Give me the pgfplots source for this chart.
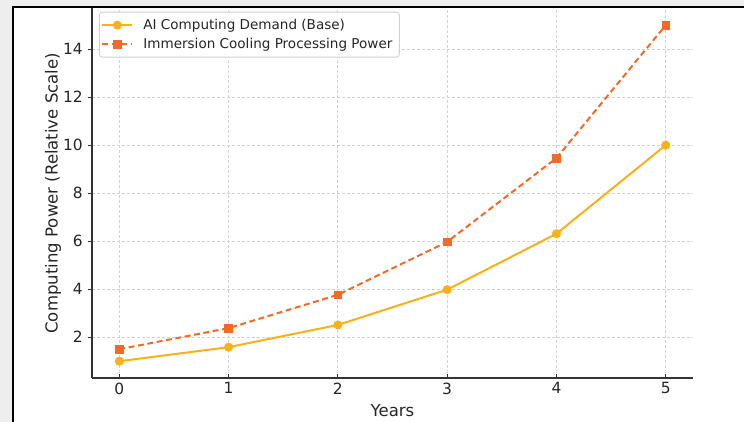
\documentclass[border=0pt]{standalone}
\usepackage{fontspec}
\setmainfont{DejaVu Sans}
\usepackage{pgfplots}
\pgfplotsset{compat=1.18}

\definecolor{basecol}{RGB}{252,176,23}
\definecolor{immcol}{RGB}{243,106,40}
\definecolor{outerbg}{RGB}{238,238,238}
\definecolor{gridcol}{RGB}{210,210,210}
\definecolor{spine}{RGB}{51,51,51}

\begin{document}
\begin{tikzpicture}
\useasboundingbox (0,0) rectangle (744bp,-422bp);
\fill[outerbg] (0,0) rectangle (744bp,-422bp);
\fill[white] (13bp,-7bp) rectangle (744bp,-422bp);
\begin{axis}[
  at={(92bp,-378bp)}, anchor=south west,
  scale only axis, width=601bp, height=369.6bp,
  xmin=-0.25, xmax=5.25, ymin=0.3, ymax=15.7,
  axis x line*=bottom, axis y line*=left,
  axis line style={spine, line width=1.2bp, -},
  xtick={0,...,5}, ytick={2,4,...,14},
  xtick align=inside, ytick align=outside,
  major tick length=4.5bp,
  tick style={spine, line width=1bp},
  grid=major,
  grid style={gridcol, dash pattern=on 3bp off 2bp, line width=0.8bp},
  /pgf/number format/assume math mode=true,
  tick label style={font=\fontsize{15.5}{18}\selectfont, text=black!85},
  yticklabel style={inner xsep=4.5bp},
  xticklabel style={inner ysep=4.5bp},
  xlabel={Years},
  ylabel={Computing Power (Relative Scale)},
  label style={font=\fontsize{16.6}{19}\selectfont, text=black!85},
  xlabel style={at={(axis description cs:0.5,-0.1055)}, anchor=base},
  ylabel style={at={(axis description cs:-0.0574,0.5)}, anchor=base},
  legend style={at={(axis description cs:0.01165,0.991)}, anchor=north west,
    draw=black!18, line width=0.8bp, rounded corners=3bp, fill=white,
    font=\fontsize{13.6}{16}\selectfont,
    inner xsep=2bp, inner ysep=3.5bp, row sep=0bp, column sep=5bp,
    nodes={inner xsep=5bp, inner ysep=2.5bp, text height=11bp, text depth=3bp, text=black!85},
    cells={anchor=west}},
  legend image code/.code={\draw[mark repeat=2, mark phase=2, #1]
    plot coordinates {(0bp,0bp) (15bp,0bp) (30bp,0bp)};},
]
\addplot[basecol, line width=2bp, mark=*, mark size=4.2bp,
  mark options={solid, line width=0.6bp}]
  coordinates {(0,1.0) (1,1.585) (2,2.512) (3,3.981) (4,6.310) (5,10.0)};
\addlegendentry{AI Computing Demand (Base)}
\addplot[immcol, line width=2bp, dash pattern=on 6bp off 3.5bp, mark=square*, mark size=3.8bp,
  mark options={solid, line width=0.6bp}]
  coordinates {(0,1.5) (1,2.378) (2,3.768) (3,5.972) (4,9.464) (5,15.0)};
\addlegendentry{Immersion Cooling Processing Power}
\end{axis}
\draw[line width=2.2bp, black] (13bp,-422bp) -- (13bp,-7bp) -- (744bp,-7bp);
\end{tikzpicture}
\end{document}
